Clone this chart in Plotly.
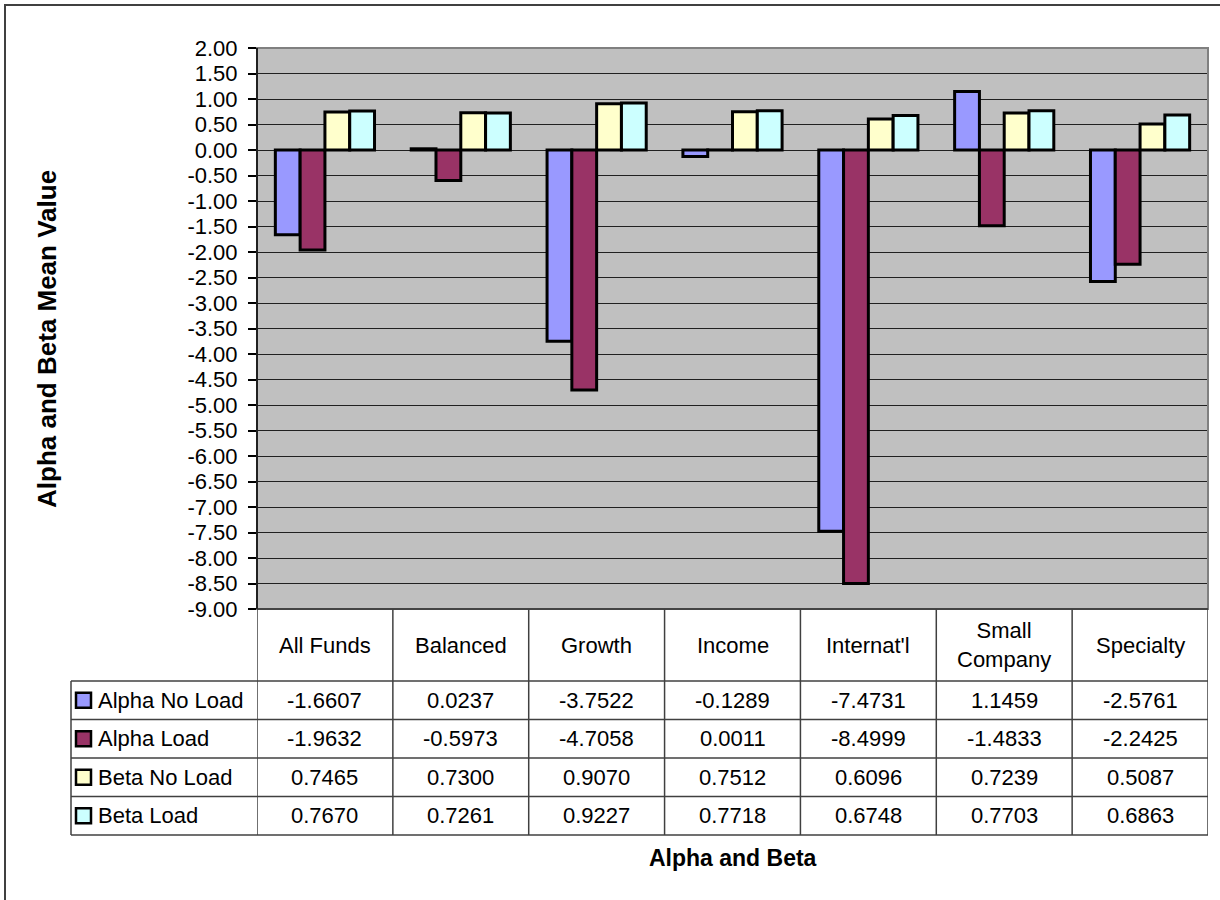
import plotly.graph_objects as go

categories = ["All Funds", "Balanced", "Growth", "Income", "Internat'l", "Small Company", "Specialty"]
header_labels = ["All Funds", "Balanced", "Growth", "Income", "Internat'l", "Small<br>Company", "Specialty"]

alpha_no_load = [-1.6607, 0.0237, -3.7522, -0.1289, -7.4731, 1.1459, -2.5761]
alpha_load = [-1.9632, -0.5973, -4.7058, 0.0011, -8.4999, -1.4833, -2.2425]
beta_no_load = [0.7465, 0.7300, 0.9070, 0.7512, 0.6096, 0.7239, 0.5087]
beta_load = [0.7670, 0.7261, 0.9227, 0.7718, 0.6748, 0.7703, 0.6863]

series_names = ["Alpha No Load", "Alpha Load", "Beta No Load", "Beta Load"]
series_values = [alpha_no_load, alpha_load, beta_no_load, beta_load]
series_colors = ["#9999FF", "#993366", "#FFFFCC", "#CCFFFF"]

y_ticks = [2 - 0.5 * i for i in range(23)]
y_ticktext = [f"{v:.2f}" for v in y_ticks]

W, H = 1220, 900
ML, MR, MT, MB = 257, 12, 48, 291
PW, PH = W - ML - MR, H - MT - MB
FONT = "Liberation Sans, Arial, sans-serif"


def px_x(X):
    return (X - ML) / PW


def px_y(Y):
    return (H - MB - Y) / PH


fig = go.Figure()
for name, vals, col in zip(series_names, series_values, series_colors):
    fig.add_trace(go.Bar(
        x=categories, y=vals, name=name,
        marker=dict(color=col, line=dict(color="black", width=3)),
        showlegend=False,
    ))

shapes = []
annotations = []
grid_col = "#404040"

# plot area frame
shapes.append(dict(type="rect", xref="paper", yref="paper", x0=0, x1=1, y0=0, y1=1,
                   line=dict(color="#808080", width=2), layer="above"))
shapes.append(dict(type="line", xref="paper", yref="paper", x0=0, x1=0, y0=0, y1=1,
                   line=dict(color="black", width=1.5), layer="above"))
shapes.append(dict(type="line", xref="paper", yref="paper", x0=0, x1=1, y0=0, y1=0,
                   line=dict(color="#303030", width=1.5), layer="above"))

# data table below the plot
row_tops = [681, 719.5, 758, 796.5, 835]
legend_left = 71
table_bottom = row_tops[-1]

# vertical column separators
for k in range(len(categories) + 1):
    shapes.append(dict(type="line", xref="x", yref="paper", x0=k - 0.5, x1=k - 0.5,
                       y0=px_y(table_bottom), y1=0, line=dict(color=grid_col, width=1.5)))
# legend column left edge
shapes.append(dict(type="line", xref="paper", yref="paper", x0=px_x(legend_left), x1=px_x(legend_left),
                   y0=px_y(table_bottom), y1=px_y(row_tops[0]), line=dict(color=grid_col, width=1.5)))
# horizontal row lines
for Y in row_tops:
    shapes.append(dict(type="line", xref="paper", yref="paper", x0=px_x(legend_left), x1=1,
                       y0=px_y(Y), y1=px_y(Y), line=dict(color=grid_col, width=1.5)))

text_font = dict(family=FONT, size=22, color="black")

# header row with categories
for cat, lab in zip(categories, header_labels):
    annotations.append(dict(x=cat, xref="x", y=px_y((609 + row_tops[0]) / 2), yref="paper",
                            text=lab, showarrow=False, font=text_font, xanchor="center", yanchor="middle"))

# series rows
for r, (name, vals, col) in enumerate(zip(series_names, series_values, series_colors)):
    yc = (row_tops[r] + row_tops[r + 1]) / 2
    shapes.append(dict(type="rect", xref="paper", yref="paper",
                       x0=px_x(76), x1=px_x(91), y0=px_y(yc + 7.5), y1=px_y(yc - 7.5),
                       fillcolor=col, line=dict(color="black", width=2.5)))
    annotations.append(dict(x=px_x(96), xref="paper", y=px_y(yc), yref="paper", text=name,
                            showarrow=False, font=text_font, xanchor="left", yanchor="middle"))
    for cat, v in zip(categories, vals):
        annotations.append(dict(x=cat, xref="x", y=px_y(yc), yref="paper", text=f"{v:.4f}",
                                showarrow=False, font=text_font, xanchor="center", yanchor="middle"))

# axis titles
annotations.append(dict(x=0.5, xref="paper", y=px_y(858), yref="paper", text="<b>Alpha and Beta</b>",
                        showarrow=False, font=dict(family=FONT, size=23, color="black"),
                        xanchor="center", yanchor="middle"))
annotations.append(dict(x=px_x(47), xref="paper", y=px_y(339), yref="paper",
                        text="<b>Alpha and Beta Mean Value</b>", textangle=-90,
                        showarrow=False, font=dict(family=FONT, size=26, color="black"),
                        xanchor="center", yanchor="middle"))

# outer chart frame
shapes.append(dict(type="rect", xref="paper", yref="paper",
                   x0=px_x(5), x1=px_x(1240), y0=px_y(920), y1=px_y(5),
                   line=dict(color="#404040", width=2)))

fig.update_layout(
    width=W, height=H,
    margin=dict(l=ML, r=MR, t=MT, b=MB, autoexpand=False),
    paper_bgcolor="white",
    plot_bgcolor="#C0C0C0",
    barmode="group",
    bargap=0.27,
    bargroupgap=0,
    shapes=shapes,
    annotations=annotations,
    xaxis=dict(showticklabels=False, showgrid=False, zeroline=False, ticks="",
               range=[-0.5, 6.5], showline=False),
    yaxis=dict(range=[-9, 2], tickvals=y_ticks, ticktext=y_ticktext,
               showgrid=True, gridcolor="#202020", gridwidth=1, zeroline=False,
               ticks="outside", ticklen=8, tickcolor="black", tickwidth=1.5,
               tickfont=dict(family=FONT, size=22, color="black"),
               ticklabelstandoff=6, showline=False),
)

fig.write_html("out.html")
